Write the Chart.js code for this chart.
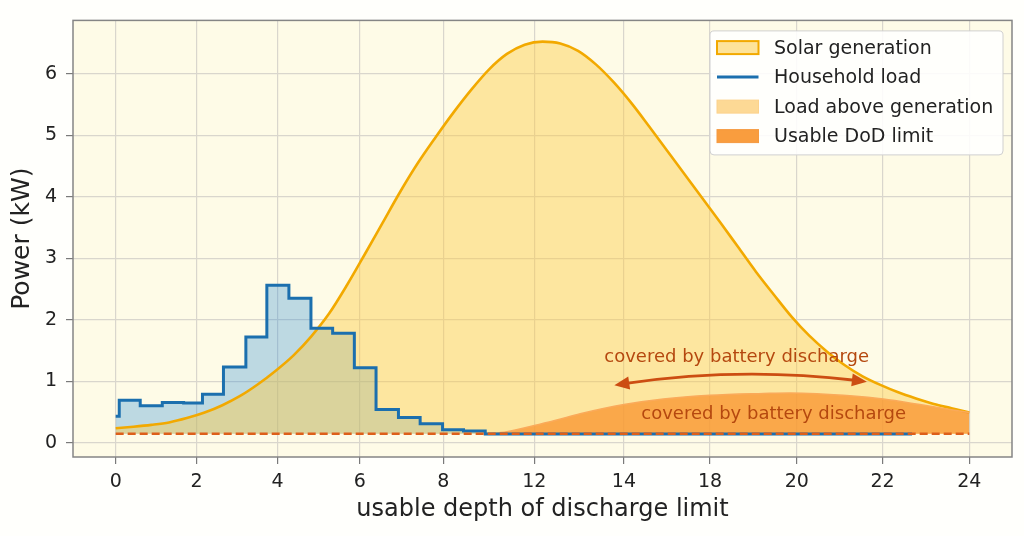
<!DOCTYPE html>
<html>
<head>
<meta charset="utf-8">
<title>Solar generation vs household load</title>
<script src="https://cdn.jsdelivr.net/npm/chart.js@4.4.1/dist/chart.umd.min.js"></script>
<style>
  html, body { margin: 0; padding: 0; background: #fffffc; }
  .wrap { width: 1024px; height: 536px; position: relative; }
</style>
</head>
<body>
<div class="wrap"><canvas id="myChart"></canvas></div>
<script>
// --- Data (hours on x, kW on y) ---
const tickValues = [0, 2.27, 4.55, 6.86, 9.21, 11.77, 14.29, 16.71, 19.15, 21.56, 24];
const tickLabels = ['0', '2', '4', '6', '8', '12', '14', '18', '20', '22', '24'];
const yTickValues = [0, 1, 2, 3, 4, 5, 6];

const solarX = [0, 0.5, 1, 1.5, 2, 2.5, 3, 3.5, 4, 4.5, 5, 5.5, 6, 6.5, 7, 7.5, 8, 8.5, 9, 9.5, 10, 10.5, 11, 11.5, 12,
                12.5, 13, 13.5, 14, 14.5, 15, 15.5, 16, 16.5, 17, 17.5, 18, 18.5, 19, 19.5, 20, 20.5, 21, 21.5, 22, 22.5, 23, 23.5, 24];
const solarKw = [0.235, 0.26, 0.29, 0.33, 0.40, 0.49, 0.61, 0.76, 0.95, 1.17, 1.42, 1.73, 2.10, 2.56, 3.06, 3.57, 4.08, 4.55, 4.97, 5.37, 5.74, 6.07, 6.32, 6.47, 6.52,
                 6.49, 6.37, 6.15, 5.86, 5.52, 5.14, 4.75, 4.36, 3.97, 3.58, 3.18, 2.78, 2.41, 2.05, 1.74, 1.48, 1.26, 1.08, 0.94, 0.82, 0.72, 0.63, 0.56, 0.49];

const loadX = [0, 0.10, 0.69, 1.31, 1.91, 2.44, 3.03, 3.66, 4.25, 4.87, 5.49, 6.10, 6.71, 7.32, 7.95, 8.56, 9.19, 9.78, 10.39, 22.39];
const loadKw = [0.43, 0.69, 0.60, 0.655, 0.645, 0.79, 1.23, 1.72, 2.56, 2.35, 1.86, 1.78, 1.22, 0.54, 0.41, 0.31, 0.21, 0.19, 0.14, 0.14];

const dodX = [10.39, 11, 11.77, 12.4, 13.06, 14.29, 15.4, 16.71, 18.21, 18.96, 20.73, 21.58, 22.61, 24];
const dodKw = [0.145, 0.18, 0.28, 0.37, 0.47, 0.62, 0.71, 0.77, 0.80, 0.81, 0.76, 0.71, 0.62, 0.49];

const dodLevel = 0.145;
const baseX = [0, 24];

const legendLabels = ['Solar generation', 'Household load', 'Load above generation', 'Usable DoD limit'];
const noteText = 'covered by battery discharge';

// --- helpers ---
const toPoints = (xs, ys) => xs.map((x, i) => ({ x: x, y: ys[i] }));

Chart.defaults.font.family = '"DejaVu Sans", sans-serif';
Chart.defaults.color = '#222';

// plot background + outer frame
const backdrop = {
    id: 'backdrop',
    beforeDraw(chart) {
        const { ctx, chartArea: a } = chart;
        ctx.save();
        ctx.fillStyle = '#fffffc';
        ctx.fillRect(0, 0, chart.width, chart.height);
        ctx.fillStyle = '#fefbe7';
        ctx.fillRect(a.left, a.top, a.right - a.left, a.bottom - a.top);
        ctx.restore();
    },
    afterDatasetsDraw(chart) {
        const { ctx, chartArea: a } = chart;
        ctx.save();
        ctx.strokeStyle = '#858585';
        ctx.lineWidth = 1.5;
        ctx.strokeRect(a.left, a.top, a.right - a.left, a.bottom - a.top);
        ctx.restore();
    }
};

// text notes and the curved double arrow
const notes = {
    id: 'notes',
    afterDatasetsDraw(chart) {
        const { ctx, scales: { x, y } } = chart;
        ctx.save();
        ctx.fillStyle = '#b5480f';
        ctx.font = '18px "DejaVu Sans"';
        ctx.textAlign = 'center';
        ctx.textBaseline = 'alphabetic';
        ctx.fillText(noteText, x.getPixelForValue(17.46), y.getPixelForValue(1.316));
        ctx.fillText(noteText, x.getPixelForValue(18.5), y.getPixelForValue(0.387));

        const A = { x: x.getPixelForValue(14.02), y: y.getPixelForValue(0.935) };
        const B = { x: x.getPixelForValue(21.12), y: y.getPixelForValue(0.993) };
        const M = { x: x.getPixelForValue(17.55), y: y.getPixelForValue(1.10) };
        const C = { x: 2 * M.x - (A.x + B.x) / 2, y: 2 * M.y - (A.y + B.y) / 2 };
        const col = '#cc4d12';
        const headLen = 15, headW = 6.5;
        const shorten = (P) => {
            const dx = P.x - C.x, dy = P.y - C.y, d = Math.hypot(dx, dy);
            return { x: P.x - dx / d * headLen * 0.8, y: P.y - dy / d * headLen * 0.8, ux: dx / d, uy: dy / d };
        };
        const a2 = shorten(A), b2 = shorten(B);
        ctx.strokeStyle = col;
        ctx.lineWidth = 2.8;
        ctx.beginPath();
        ctx.moveTo(a2.x, a2.y);
        ctx.quadraticCurveTo(C.x, C.y, b2.x, b2.y);
        ctx.stroke();
        ctx.fillStyle = col;
        [[A, a2], [B, b2]].forEach(([P, s]) => {
            const bx = P.x - s.ux * headLen, by = P.y - s.uy * headLen;
            ctx.beginPath();
            ctx.moveTo(P.x, P.y);
            ctx.lineTo(bx - s.uy * headW, by + s.ux * headW);
            ctx.lineTo(bx + s.uy * headW, by - s.ux * headW);
            ctx.closePath();
            ctx.fill();
        });
        ctx.restore();
    }
};

// legend box in the upper right of the plot
const legendBox = {
    id: 'legendBox',
    afterDraw(chart) {
        const { ctx, chartArea: a } = chart;
        const w = 293, h = 124;
        const left = a.right - 9 - w, top = a.top + 10.5;
        ctx.save();
        ctx.fillStyle = 'rgba(255,255,255,0.88)';
        ctx.strokeStyle = '#d0d0d0';
        ctx.lineWidth = 1;
        ctx.beginPath();
        ctx.roundRect(left, top, w, h, 4);
        ctx.fill();
        ctx.stroke();

        const styles = [
            { fill: '#fde39a', stroke: '#f2a900', lw: 2 },
            { line: '#1b6fae' },
            { fill: '#fdd995', stroke: '#fcd28c', lw: 1 },
            { fill: '#f99d3e', stroke: '#f59a40', lw: 1 }
        ];
        ctx.font = '19px "DejaVu Sans"';
        ctx.textBaseline = 'middle';
        ctx.textAlign = 'left';
        legendLabels.forEach((lab, i) => {
            const cy = top + 16.7 + i * 29.5;
            const px = left + 7;
            const st = styles[i];
            if (st.line) {
                ctx.strokeStyle = st.line;
                ctx.lineWidth = 3;
                ctx.beginPath();
                ctx.moveTo(px, cy);
                ctx.lineTo(px + 41.5, cy);
                ctx.stroke();
            } else {
                ctx.fillStyle = st.fill;
                ctx.fillRect(px, cy - 6.5, 41.5, 13);
                ctx.strokeStyle = st.stroke;
                ctx.lineWidth = st.lw;
                ctx.strokeRect(px, cy - 6.5, 41.5, 13);
            }
            ctx.fillStyle = '#222';
            ctx.fillText(lab, left + 64, cy + 1);
        });
        ctx.restore();
    }
};

// --- Chart ---
const ctx = document.getElementById('myChart');

const myChart = new Chart(ctx, {
    type: 'line',
    data: {
        datasets: [
            {
                label: 'Household load area',
                data: toPoints(loadX, loadKw),
                stepped: true,
                borderWidth: 0,
                backgroundColor: 'rgba(40,140,215,0.30)',
                fill: { value: dodLevel },
                order: 6
            },
            {
                label: 'Solar generation',
                data: toPoints(solarX, solarKw),
                cubicInterpolationMode: 'monotone',
                borderColor: '#f2a900',
                borderWidth: 2.6,
                backgroundColor: 'rgba(252,205,70,0.45)',
                fill: { value: dodLevel },
                order: 5
            },
            {
                label: 'Usable DoD limit',
                data: toPoints(dodX, dodKw),
                cubicInterpolationMode: 'monotone',
                borderColor: 'rgba(250,170,90,1)',
                borderWidth: 1.5,
                backgroundColor: 'rgba(248,150,50,0.78)',
                fill: { value: dodLevel },
                order: 4
            },
            {
                label: 'Household load',
                data: toPoints(loadX, loadKw),
                stepped: true,
                borderColor: '#1b6fae',
                borderWidth: 3,
                fill: false,
                order: 3
            },
            {
                label: 'DoD level',
                data: baseX.map(x => ({ x: x, y: dodLevel })),
                borderColor: '#dd5f1a',
                borderWidth: 2.5,
                borderDash: [8, 4],
                fill: false,
                order: 2
            }
        ]
    },
    options: {
        responsive: true,
        maintainAspectRatio: false,
        animation: false,
        elements: { point: { radius: 0 } },
        layout: { padding: { top: 17, right: 12, left: 0, bottom: 0 } },
        plugins: {
            legend: { display: false },
            tooltip: { enabled: false }
        },
        scales: {
            x: {
                type: 'linear',
                min: -1.2,
                max: 25.2,
                afterBuildTicks: (scale) => { scale.ticks = tickValues.map(v => ({ value: v })); },
                afterFit: (scale) => { scale.height = 79; },
                ticks: {
                    autoSkip: false,
                    maxRotation: 0,
                    padding: 7,
                    font: { size: 19 },
                    color: '#222',
                    callback: (val, i) => tickLabels[i]
                },
                grid: { color: '#d9d6cd', lineWidth: 1.2, tickLength: 7, tickColor: '#7a7a7a' },
                border: { display: false },
                title: {
                    display: true,
                    text: 'usable depth of discharge limit',
                    font: { size: 24 },
                    color: '#222',
                    padding: { top: 0, bottom: 12 }
                }
            },
            y: {
                type: 'linear',
                min: -0.232,
                max: 6.865,
                afterBuildTicks: (scale) => { scale.ticks = yTickValues.map(v => ({ value: v })); },
                afterFit: (scale) => { scale.width = 73; },
                ticks: {
                    padding: 9,
                    font: { size: 19 },
                    color: '#222',
                    callback: (val) => String(val)
                },
                grid: { color: '#d9d6cd', lineWidth: 1.2, tickLength: 7, tickColor: '#7a7a7a' },
                border: { display: false },
                title: {
                    display: true,
                    text: 'Power (kW)',
                    font: { size: 25 },
                    color: '#222',
                    padding: { top: 7, bottom: 0 }
                }
            }
        }
    },
    plugins: [backdrop, notes, legendBox]
});
</script>
</body>
</html>
